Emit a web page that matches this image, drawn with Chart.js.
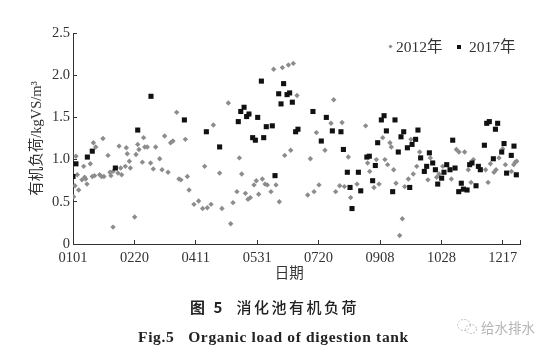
<!DOCTYPE html>
<html>
<head>
<meta charset="utf-8">
<script src="https://cdn.jsdelivr.net/npm/chart.js@4"></script>
<style>
  html, body { margin: 0; padding: 0; background: #fff; }
  #wrap { position: relative; width: 554px; height: 351px; overflow: hidden; }
  #chart { position: absolute; left: 0; top: 0; }
  .cap { position: absolute; white-space: pre; color: #222; }
  #cap1 { left: 190px; top: 297px; font: 500 15px "Noto Sans CJK SC"; line-height: 20px; letter-spacing: 2.5px; }
  #cap1 b { font-weight: 700; }
  #cap2 { left: 138px; top: 327px; font: bold 15.5px "Liberation Serif"; line-height: 20px; letter-spacing: 0.67px; }
  #mark { left: 481px; top: 318px; font: 13.5px "Noto Sans CJK SC"; line-height: 18px; color: #b4b4b4; }
  #icon { position: absolute; left: 456px; top: 318px; }
  .leg { position: absolute; top: 37px; white-space: pre; font: 15.5px "Liberation Serif", "Noto Sans CJK SC"; line-height: 19px; color: #333; }
  .mk { position: absolute; }
  #mk1 { left: 388.5px; top: 45px; width: 3px; height: 3px; background: #8c8c8c; transform: rotate(45deg); }
  #mk2 { left: 457px; top: 44.5px; width: 4px; height: 4px; background: #111; }
</style>
</head>
<body>
<div id="wrap">
  <canvas id="chart" width="554" height="351"></canvas>
  <div class="mk" id="mk1"></div>
  <div class="leg" style="left:396px">2012年</div>
  <div class="mk" id="mk2"></div>
  <div class="leg" style="left:469px">2017年</div>
  <div class="cap" id="cap1"><b>图 5</b>  消化池有机负荷</div>
  <div class="cap" id="cap2">Fig.5   Organic load of digestion tank</div>
  <svg id="icon" width="22" height="18" fill="none" stroke="#bbb" stroke-width="1" stroke-dasharray="2 1.5">
    <ellipse cx="8" cy="7" rx="6.5" ry="5.5"/>
    <ellipse cx="15" cy="11" rx="5.5" ry="4.5"/>
  </svg>
  <div class="cap" id="mark">给水排水</div>
</div>
<script>
const ctx = document.getElementById('chart');

const xTickDays = [0, 50, 100, 150, 200, 250, 300, 350];
const xTickLabels = ["0101", "0220", "0411", "0531", "0720", "0908", "1028", "1217"];

const days2012 = [0.5, 1.6, 2.4, 3.5, 4.6, 7.3, 8.7, 9.5, 10.3, 11.4, 14.1, 15.7, 16.6, 17.6, 18.5, 21.7, 23.3, 25.2, 24.4, 28.5,
  30.1, 30.9, 32.6, 32.6, 36.6, 37.5, 39.6, 38.8, 42.6, 43.4, 44.2, 45.9, 46.7, 50.2, 51.3, 52.7, 53.7, 56.5, 57.5, 58.4,
  60.5, 63.2, 65.4, 67.3, 70.6, 72.5, 74.6, 77.4, 79.5, 81.4, 84.4, 86.3, 87.9, 91.5, 93.1, 94.5, 98.5, 102.3, 105.6, 109.4,
  112.4, 107.2, 114.3, 119.4, 121.3, 126.5, 128.4, 130.3, 133.5, 135.5, 137.4, 140.4, 142.5, 144.4, 147.4, 149.3, 151.2, 154.2, 156.4, 158.2,
  161.2, 163.4, 165.3, 168, 170.5, 172.4, 175.4, 177.3, 179.4, 182.4, 191.1, 193.3, 196.3, 198.2, 200.3, 205.2, 210.1, 212.3, 213.9, 217.2,
  219.1, 221, 224.2, 226.1, 231.3, 238.3, 239.9, 241.6, 245.1, 247, 249.2, 252.2, 254, 256.2, 258.1, 259.2, 261.1, 263, 266, 268.2,
  270.1, 273.1, 277.1, 275.2, 279.9, 282.3, 289, 291, 296.2, 298.1, 301.1, 308.1, 312.2, 314.3, 318.9, 321.9, 324.1, 326, 336, 338,
  339.9, 342.8, 344.5, 346.9, 349.9, 352.1, 357, 358.9, 360, 361.3];
const values2012 = [0.56, 0.69, 1.04, 0.82, 0.64, 0.76, 0.92, 0.79, 0.77, 0.71, 0.95, 0.80, 1.20, 0.81, 1.15, 0.82, 0.80, 0.80, 1.25, 1.05,
  0.85, 0.81, 0.20, 0.86, 0.84, 1.16, 0.82, 0.90, 0.92, 1.14, 1.07, 0.98, 0.90, 0.32, 1.06, 1.18, 1.12, 0.97, 1.26, 1.15,
  1.15, 0.96, 0.89, 1.15, 1.01, 0.88, 1.28, 0.85, 1.20, 1.22, 1.56, 0.77, 0.76, 1.24, 0.80, 0.64, 0.47, 0.51, 0.42, 0.43,
  0.47, 0.92, 1.41, 0.84, 0.42, 1.67, 0.24, 0.49, 0.62, 1.02, 0.83, 0.60, 0.53, 0.55, 0.70, 0.75, 0.59, 0.77, 0.71, 0.70,
  0.62, 2.07, 0.70, 0.50, 2.09, 1.05, 2.12, 1.11, 2.14, 1.76, 0.58, 1.01, 0.62, 1.32, 0.70, 1.11, 1.43, 1.71, 0.62, 0.69,
  1.44, 0.68, 1.03, 0.55, 0.71, 1.40, 0.96, 0.86, 0.67, 1.00, 0.71, 1.26, 1.00, 0.94, 1.20, 1.15, 0.88, 0.72, 0.10, 0.30,
  0.68, 0.77, 0.83, 1.24, 0.92, 1.09, 0.76, 1.02, 0.79, 0.83, 0.92, 0.77, 1.12, 1.09, 1.09, 0.88, 0.73, 1.00, 0.88, 0.73,
  0.95, 0.85, 0.88, 1.02, 1.13, 0.94, 0.86, 0.94, 0.97, 0.98];

const days2017 = [0, 2.4, 11.7, 15.7, 34.5, 52.7, 63.5, 90.7, 108.6, 119.4, 134.6, 136.6, 139.3, 141.4, 143.3, 150.4, 146.3, 148.5, 153.4, 155.3,
  157.4, 162.3, 164.5, 167.5, 169.4, 171.5, 174.3, 176.4, 178.6, 181.3, 183.2, 195.4, 202.2, 206.3, 211.2, 218.2, 220.2, 223.4, 225.6, 227.2,
  232.4, 234.3, 239.3, 241.3, 244, 246.2, 248.1, 251.1, 253.3, 255.2, 260.3, 262.2, 264.9, 267.1, 269.3, 272.3, 274.2, 276.1, 279, 280.9,
  283.1, 286.1, 288, 290.2, 292.9, 295.1, 297, 300.2, 302.1, 304.3, 307, 309.2, 311.1, 314.1, 316.2, 317.9, 320.9, 323, 324.9, 328.2,
  330.1, 331.7, 335, 336.9, 339, 342.3, 344, 345.8, 349.1, 351, 353.1, 356.9, 359.1, 361];
const values2017 = [0.80, 0.95, 1.03, 1.10, 0.90, 1.35, 1.75, 1.47, 1.33, 1.15, 1.45, 1.57, 1.62, 1.51, 1.54, 1.50, 1.26, 1.23, 1.93, 1.26,
  1.39, 1.40, 0.81, 1.78, 1.66, 1.90, 1.77, 1.79, 1.68, 1.33, 1.36, 1.57, 1.22, 1.50, 1.34, 1.33, 1.12, 0.85, 0.67, 0.42,
  0.85, 0.63, 1.03, 1.04, 0.75, 0.93, 1.20, 1.47, 1.52, 1.34, 0.62, 1.47, 1.09, 1.27, 1.33, 1.14, 0.67, 1.18, 1.24, 1.35,
  1.02, 0.86, 0.92, 1.08, 0.96, 0.88, 0.71, 0.78, 0.85, 0.94, 0.88, 1.23, 0.90, 0.62, 0.72, 0.65, 0.64, 0.94, 0.96, 0.69,
  0.92, 0.88, 1.17, 1.43, 1.45, 1.01, 1.36, 1.43, 1.09, 1.19, 0.84, 1.05, 1.16, 0.82];

const toPoints = (xs, ys) => xs.map((x, i) => ({x: x, y: ys[i]}));
const tickFont = {family: '"Liberation Serif", "Noto Sans CJK SC"', size: 14.5};
const textColor = "#333";

new Chart(ctx, {
  type: "scatter",
  data: {
    datasets: [{
      label: "2012年",
      data: toPoints(days2012, values2012),
      pointStyle: "rectRot",
      pointRadius: 2.7,
      backgroundColor: "#8c8c8c",
      borderWidth: 0,
      order: 1
    }, {
      label: "2017年",
      data: toPoints(days2017, values2017),
      pointStyle: "rect",
      pointRadius: 3.6,
      backgroundColor: "#111",
      borderWidth: 0,
      order: 0
    }]
  },
  options: {
    responsive: false,
    animation: false,
    layout: {padding: {left: 28, right: 34, top: 33, bottom: 68}},
    plugins: {
      tooltip: {enabled: false},
      legend: {display: false}
    },
    scales: {
      x: {
        type: "linear",
        min: 0,
        max: 364,
        afterBuildTicks: (scale) => {
          scale.ticks = xTickDays.concat([364]).map(v => ({value: v}));
        },
        ticks: {
          color: textColor,
          font: tickFont,
          padding: 9,
          maxRotation: 0,
          autoSkip: false,
          callback: (v) => {
            const i = xTickDays.indexOf(v);
            return i >= 0 ? xTickLabels[i] : "";
          }
        },
        grid: {drawOnChartArea: false, tickLength: -4, tickColor: "#333", tickWidth: 1},
        border: {color: "#333", width: 1},
        title: {display: true, text: "日期\u3000", color: textColor, font: tickFont, padding: {top: 0, bottom: 0}},
        afterFit: (s) => { s.height = 39; }
      },
      y: {
        min: 0,
        max: 2.5,
        ticks: {
          stepSize: 0.5,
          color: textColor,
          font: tickFont,
          padding: 7,
          callback: (v) => v === 0 ? "0" : v.toFixed(1)
        },
        grid: {drawOnChartArea: false, tickLength: -4, tickColor: "#333", tickWidth: 1},
        border: {color: "#333", width: 1},
        title: {display: true, text: "有机负荷/kgVS/m³", color: textColor, font: tickFont, padding: {top: 0, bottom: 0}},
        afterFit: (s) => { s.width = 45; }
      }
    }
  }
});
</script>
</body>
</html>
